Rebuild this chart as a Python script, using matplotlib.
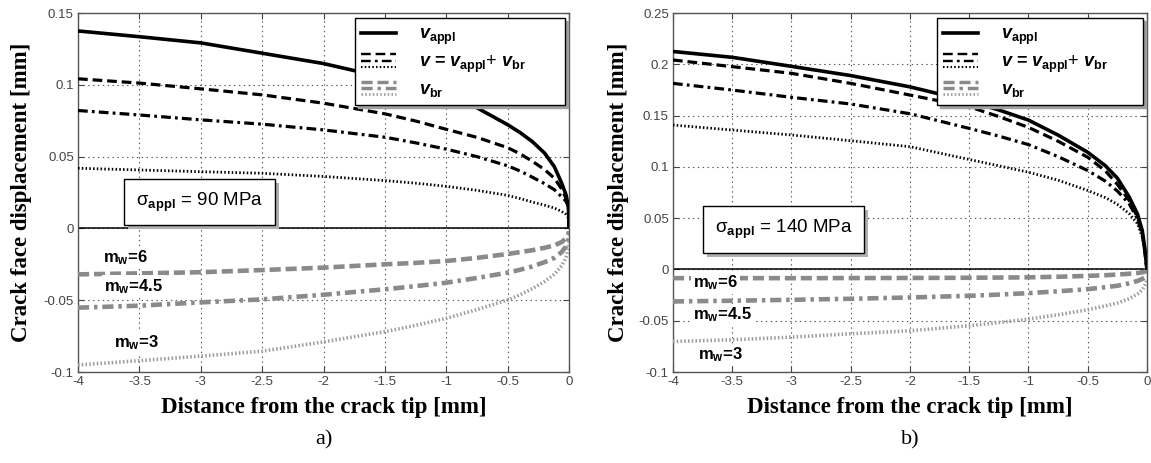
import matplotlib
matplotlib.use("Agg")
import matplotlib.pyplot as plt
from matplotlib.lines import Line2D
from matplotlib.legend_handler import HandlerBase
from matplotlib.ticker import FuncFormatter
import matplotlib.patheffects as pe

plt.rcParams.update({
    "font.family": "Liberation Sans",
    "mathtext.fontset": "custom",
    "mathtext.rm": "Liberation Sans",
    "mathtext.it": "Liberation Sans:italic:bold",
    "mathtext.bf": "Liberation Sans:bold",
    "axes.unicode_minus": False,
    "lines.scale_dashes": False,
})

# ---------------- data: sigma_appl = 90 MPa ----------------
x_a = [-4, -3.5, -3, -2.5, -2, -1.5, -1.25, -1, -0.75, -0.5, -0.4, -0.3, -0.2, -0.12,
       -0.06, -0.025, -0.005, 0]
a_appl = [0.1375, 0.1335, 0.1292, 0.1220, 0.1148, 0.1050, 0.0985, 0.0915, 0.0840, 0.0722,
          0.0668, 0.0605, 0.0525, 0.0430, 0.0315, 0.0235, 0.0150, 0.0]
a_tot6 = [0.1042, 0.1012, 0.0972, 0.0930, 0.0872, 0.0798, 0.0748, 0.0690, 0.0634, 0.0562,
          0.0520, 0.0468, 0.0410, 0.0350, 0.0275, 0.0210, 0.0140, 0.0]
a_tot45 = [0.0821, 0.0790, 0.0756, 0.0726, 0.0686, 0.0635, 0.0596, 0.0552, 0.0500, 0.0436,
           0.0400, 0.0357, 0.0312, 0.0270, 0.0220, 0.0190, 0.0150, 0.0]
a_tot3 = [0.0419, 0.0407, 0.0395, 0.0384, 0.0362, 0.0333, 0.0315, 0.0293, 0.0265, 0.0230,
          0.0208, 0.0184, 0.0162, 0.0142, 0.0118, 0.0098, 0.0075, 0.0]
a_br6 = [-0.0320, -0.0313, -0.0305, -0.0290, -0.0273, -0.0250, -0.0240, -0.0227, -0.0205,
         -0.0178, -0.0165, -0.0152, -0.0135, -0.0118, -0.0095, -0.0068, -0.0040, -0.0020]
a_br45 = [-0.0552, -0.0538, -0.0515, -0.0494, -0.0462, -0.0424, -0.0402, -0.0378, -0.0345,
          -0.0308, -0.0288, -0.0265, -0.0235, -0.0205, -0.0165, -0.0125, -0.0080, -0.0040]
a_br3 = [-0.0951, -0.0921, -0.0889, -0.0855, -0.0790, -0.0719, -0.0675, -0.0626, -0.0565,
         -0.0499, -0.0462, -0.0420, -0.0370, -0.0320, -0.0260, -0.0205, -0.0140, -0.0080]

# ---------------- data: sigma_appl = 140 MPa ----------------
x_b = [-4, -3.5, -3, -2.5, -2, -1.5, -1.25, -1, -0.75, -0.5, -0.35, -0.25, -0.15, -0.08,
       -0.04, -0.02, 0]
b_appl = [0.2125, 0.2068, 0.1980, 0.1890, 0.1780, 0.1640, 0.1555, 0.1456, 0.1310, 0.1142,
          0.1010, 0.0890, 0.0706, 0.0540, 0.0380, 0.0220, 0.0]
b_tot6 = [0.2042, 0.1977, 0.1912, 0.1814, 0.1700, 0.1586, 0.1490, 0.1385, 0.1250, 0.1094,
          0.0960, 0.0830, 0.0673, 0.0511, 0.0350, 0.0190, 0.0]
b_tot45 = [0.1814, 0.1749, 0.1678, 0.1613, 0.1518, 0.1375, 0.1300, 0.1217, 0.1100, 0.0964,
           0.0860, 0.0765, 0.0640, 0.0495, 0.0350, 0.0200, 0.0]
b_tot3 = [0.1408, 0.1359, 0.1311, 0.1255, 0.1197, 0.1072, 0.1010, 0.0948, 0.0870, 0.0770,
          0.0700, 0.0635, 0.0544, 0.0447, 0.0317, 0.0220, 0.0]
b_br6 = [-0.0085, -0.0085, -0.0085, -0.0084, -0.0083, -0.0081, -0.0079, -0.0077, -0.0071,
         -0.0063, -0.0056, -0.0050, -0.0042, -0.0035, -0.0028, -0.0022, -0.0015]
b_br45 = [-0.0312, -0.0305, -0.0296, -0.0286, -0.0273, -0.0257, -0.0245, -0.0231, -0.0213,
          -0.0192, -0.0173, -0.0159, -0.0135, -0.0112, -0.0092, -0.0078, -0.0052]
b_br3 = [-0.0702, -0.0686, -0.0660, -0.0627, -0.0598, -0.0549, -0.0518, -0.0484, -0.0442,
         -0.0393, -0.0355, -0.0328, -0.0285, -0.0240, -0.0200, -0.0160, -0.0100]

x_ticks = [-4, -3.5, -3, -2.5, -2, -1.5, -1, -0.5, 0]
y_ticks_a = [-0.1, -0.05, 0, 0.05, 0.1, 0.15]
y_ticks_b = [-0.1, -0.05, 0, 0.05, 0.1, 0.15, 0.2, 0.25]
mw_labels = ["6", "4.5", "3"]

# ---------------- line styles ----------------
BLK = "black"
GRY = "#8a8a8a"
GRY_DOT = "#9c9c9c"
st_appl = dict(color=BLK, ls="-", lw=2.6)
st_tot = [dict(color=BLK, ls=(0, (7, 3.5)), lw=2.3),
          dict(color=BLK, ls=(0, (7, 3, 2, 3)), lw=2.3),
          dict(color=BLK, ls=(0, (1.1, 1.6)), lw=2.0)]
st_br = [dict(color=GRY, ls=(0, (8, 3.5)), lw=3.3),
         dict(color=GRY, ls=(0, (8, 3.5, 2.5, 3.5)), lw=3.3),
         dict(color=GRY_DOT, ls=(0, (1.1, 1.6)), lw=2.6)]


class StackedHandler(HandlerBase):
    """Draws a tuple of lines as samples stacked on top of each other."""

    def create_artists(self, legend, orig_handle, xdescent, ydescent,
                       width, height, fontsize, trans):
        n = len(orig_handle)
        arts = []
        for i, h in enumerate(orig_handle):
            if n == 1:
                y = height / 2 - ydescent
            else:
                y = height - (i + 0.5) * height / n - ydescent
            ln = Line2D([-xdescent, width - xdescent], [y, y])
            self.update_prop(ln, h, legend)
            if n > 1:
                ln.set_linewidth(h.get_linewidth() * 0.75)
            ln.set_dash_capstyle("butt")
            ln.set_transform(trans)
            arts.append(ln)
        return arts


def fmt(v, _):
    return "%g" % round(v, 4)


def draw(ax, x, appl, tots, brs, yticks, ylim, sigma, sig_xy, mw_pos, leg_box):
    ax.axhline(0, color="black", lw=1.1, zorder=2)
    ax.plot(x, appl, zorder=4, solid_capstyle="butt", solid_joinstyle="round", **st_appl)
    for y, st in zip(tots, st_tot):
        ax.plot(x, y, zorder=4, dash_capstyle="butt", **st)
    for y, st in zip(brs, st_br):
        ax.plot(x, y, zorder=3, dash_capstyle="butt", **st)

    ax.set_xlim(-4, 0)
    ax.set_ylim(*ylim)
    ax.set_xticks(x_ticks)
    ax.set_yticks(yticks)
    ax.xaxis.set_major_formatter(FuncFormatter(fmt))
    ax.yaxis.set_major_formatter(FuncFormatter(fmt))
    ax.tick_params(direction="in", length=4, width=0.8, top=True, right=True,
                   labelsize=9.5, labelcolor="#444444", color="#444444", pad=3)
    ax.grid(True, ls=(0, (1, 2.5)), lw=0.8, color="#555555")
    for s in ax.spines.values():
        s.set_color("#555555")
        s.set_linewidth(1.0)

    ax.set_xlabel("Distance from the crack tip [mm]", family="Liberation Serif",
                  weight="bold", fontsize=16.5)
    ax.set_ylabel("Crack face displacement [mm]", family="Liberation Serif",
                  weight="bold", fontsize=16.5)
    ax.xaxis.set_label_coords(0.5, -0.10)
    ax.xaxis.label.set_va("center")
    ax.yaxis.set_label_coords(-0.116, 0.5)
    ax.yaxis.label.set_va("center")

    # stress level box with drop shadow
    t = ax.text(sig_xy[0], sig_xy[1], r"$\mathrm{\sigma}_{\mathbf{appl}}$ = %d MPa" % sigma,
                fontsize=13.5, ha="center", va="center", zorder=6,
                bbox=dict(boxstyle="square,pad=0.62", fc="white", ec="black", lw=1.0))
    t.get_bbox_patch().set_path_effects([
        pe.SimplePatchShadow(offset=(3, -3), shadow_rgbFace="#b0b0b0", alpha=1.0),
        pe.Normal()])

    # Weibull modulus labels for the bridging curves
    for lab, (px, py) in zip(mw_labels, mw_pos):
        ax.text(px, py, r"m$_\mathbf{w}$=" + lab, fontsize=12, weight="bold",
                ha="left", va="center", zorder=5,
                bbox=dict(boxstyle="square,pad=0.12", fc="white", ec="none"))

    handles = [
        (Line2D([], [], **st_appl),),
        tuple(Line2D([], [], **s) for s in st_tot),
        tuple(Line2D([], [], **s) for s in st_br),
    ]
    labels = [r"$v_{\mathbf{appl}}$",
              r"$v$ = $v_{\mathbf{appl}}{+}$ $v_{\mathbf{br}}$",
              r"$v_{\mathbf{br}}$"]
    leg = ax.legend(handles, labels, handler_map={tuple: StackedHandler()},
                    loc="upper right", bbox_to_anchor=leg_box, mode="expand",
                    borderaxespad=0, prop={"size": 13, "weight": "bold"},
                    handlelength=1.95, handleheight=1.2,
                    handletextpad=1.25, labelspacing=0.22, borderpad=0.33,
                    fancybox=False, edgecolor="black", framealpha=1,
                    shadow={"color": "#a0a0a0", "alpha": 1.0})
    leg.get_frame().set_linewidth(1.0)
    leg.set_zorder(7)


fig = plt.figure(figsize=(11.51, 4.63), dpi=100)
ax_a = fig.add_axes([0.0678, 0.1965, 0.4266, 0.7754])
ax_b = fig.add_axes([0.5847, 0.1965, 0.4118, 0.7754])

draw(ax_a, x_a, a_appl, [a_tot6, a_tot45, a_tot3], [a_br6, a_br45, a_br3],
     y_ticks_a, (-0.1, 0.15), 90, (-3.01, 0.0184),
     [(-3.80, -0.0206), (-3.79, -0.0406), (-3.71, -0.0796)],
     (0.564, 0.5, 0.428, 0.486))
draw(ax_b, x_b, b_appl, [b_tot6, b_tot45, b_tot3], [b_br6, b_br45, b_br3],
     y_ticks_b, (-0.1, 0.25), 140, (-3.065, 0.039),
     [(-3.83, -0.0130), (-3.83, -0.0444), (-3.79, -0.0834)],
     (0.557, 0.5, 0.435, 0.486))

fig.text(0.2811, 0.05, "a)", family="Liberation Serif", fontsize=16, ha="center", va="center")
fig.text(0.7906, 0.05, "b)", family="Liberation Serif", fontsize=16, ha="center", va="center")

fig.savefig("out.png", dpi=100, facecolor="white")
